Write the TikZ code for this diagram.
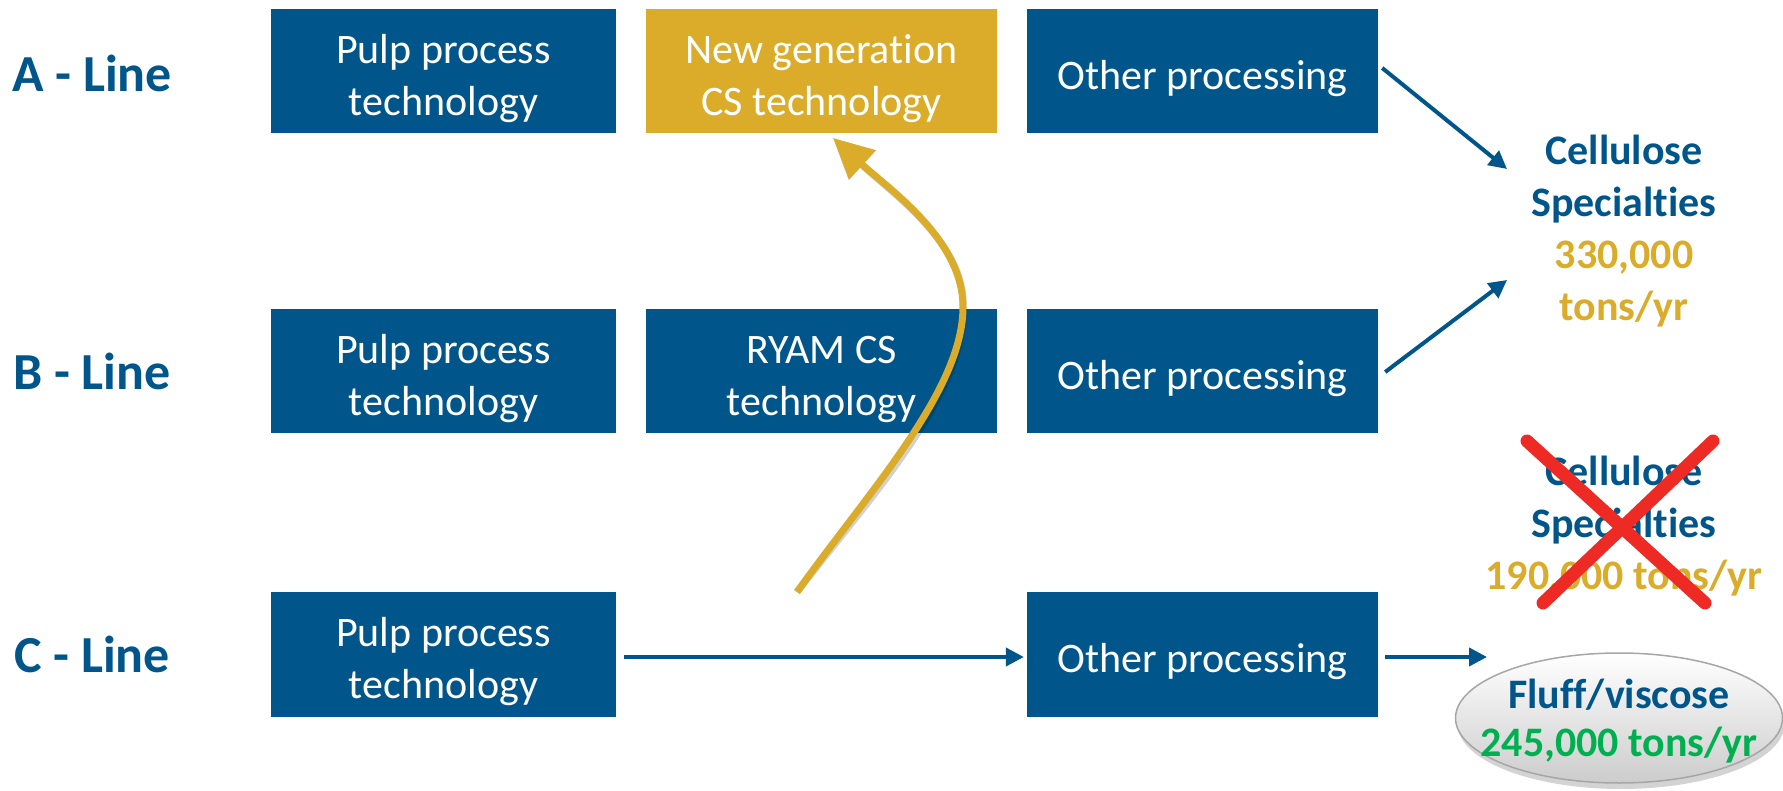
\documentclass[tikz,border=0pt]{standalone}
\usepackage{fontspec}
\setmainfont[Ligatures=CommonOff]{Carlito}
\usetikzlibrary{arrows.meta,shadows,shapes.geometric}
\definecolor{ryblue}{HTML}{00568A}
\definecolor{rygold}{HTML}{DAAC2A}
\definecolor{rygreen}{HTML}{00B050}
\definecolor{ryred}{HTML}{EE2A24}
\newcommand{\tstrut}{\rule{0pt}{44pt}}
\begin{document}
\begin{tikzpicture}[x=1pt,y=-1pt,
  box/.style={fill=ryblue, text=white, inner sep=0pt, minimum height=124pt,
    minimum width=351pt, align=center, font=\fontsize{42}{52}\selectfont},
  goldbox/.style={box, fill=rygold},
  rowlabel/.style={text=ryblue, font=\bfseries\fontsize{52}{60}\selectfont},
  outtext/.style={align=center, text=ryblue, font=\bfseries\fontsize{42}{52}\selectfont},
  flow/.style={draw=ryblue, line width=4pt, -{Triangle[length=18pt,width=18pt]}},
  goldflow/.style={draw=rygold, line width=7pt, -{Triangle[length=40pt,width=38pt]}},
  cross/.style={draw=ryred, line width=13pt, line cap=round}
]
\useasboundingbox (0,0) rectangle (1783,791);

% row labels
\node[rowlabel] (la) at (92,73) {A - Line};
\node[rowlabel] (lb) at (92,371) {B - Line};
\node[rowlabel] (lc) at (92,654) {C - Line};

% A row
\node[box, minimum width=345pt] (apulp) at (443.5,71) {\tstrut Pulp process\\technology};
\node[goldbox] (anew) at (821.5,71) {\tstrut New generation\\CS technology};
\node[box] (aother) at (1202.5,71) {\tstrut Other processing};

% B row
\node[box, minimum width=345pt] (bpulp) at (443.5,371) {\tstrut Pulp process\\technology};
\node[box] (bryam) at (821.5,371) {\tstrut RYAM CS\\technology};
\node[box] (bother) at (1202.5,371) {\tstrut Other processing};

% C row
\node[box, minimum width=345pt, minimum height=125pt] (cpulp) at (443.5,654.5) {\tstrut Pulp process\\technology};
\node[box, minimum height=125pt] (cother) at (1202.5,654.5) {\tstrut Other processing};

% outputs
\node[outtext] (cs1) at (1624,231) {Cellulose\\Specialties\\\textcolor{rygold}{330,000}\\\textcolor{rygold}{tons/yr}};
\node[outtext] (cs2) at (1624,526) {Cellulose\\Specialties\\\textcolor{rygold}{190,000 tons/yr}};
\node[ellipse, draw=gray!70, line width=1.5pt, top color=white, bottom color=gray!40,
  minimum width=327pt, minimum height=130pt, inner sep=0pt,
  drop shadow={shadow xshift=2pt, shadow yshift=-6pt, opacity=0.35}]
  (fluff) at (1619,718) {};
\node[align=center, text=ryblue, font=\bfseries\fontsize{42}{48}\selectfont]
  (fluffText) at ([yshift=-3pt]fluff.center) {Fluff/viscose\\\textcolor{rygreen}{245,000 tons/yr}};

% red cross
\coordinate (x1a) at (1527,441);
\coordinate (x1b) at (1705,603);
\coordinate (x2a) at (1713,441);
\coordinate (x2b) at (1543,603);
\draw[cross] (x1a) -- (x1b);
\draw[cross] (x2a) -- (x2b);

% blue connectors
\coordinate (tipa) at (1507,169);
\coordinate (tipb) at (1507,280);
\coordinate (tipc) at (1487,657);
\draw[flow] ([xshift=4pt,yshift=3pt]aother.east) -- (tipa);
\draw[flow] ([xshift=7pt,yshift=-1pt]bother.east) -- (tipb);
\draw[flow] ([xshift=7pt,yshift=-2.5pt]cother.east) -- (tipc);
\draw[flow, shorten <=8pt, shorten >=3pt] ([yshift=-2.5pt]cpulp.east) -- ([yshift=-2.5pt]cother.west);

% gold curved arrow
\coordinate (gtail) at (797,592);
\coordinate (gmid) at (963,307);
\coordinate (gtip) at (833,138);
\begin{scope}[xshift=3pt, yshift=-4pt]
\draw[goldflow, draw=black, opacity=0.18]
  (gtail) .. controls (870,490) and (963,390) .. (gmid)
  .. controls (963,240) and (890,190) .. (gtip);
\end{scope}
\draw[goldflow]
  (gtail) .. controls (870,490) and (963,390) .. (gmid)
  .. controls (963,240) and (890,190) .. (gtip);
\end{tikzpicture}
\end{document}
